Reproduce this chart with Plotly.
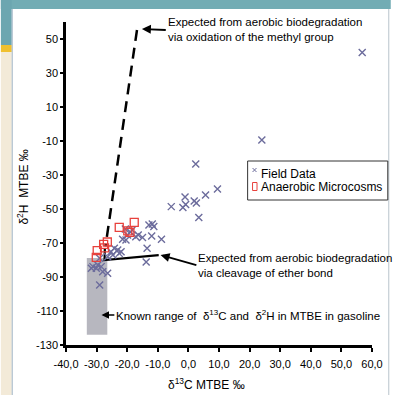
import plotly.graph_objects as go

# ---------------- data ----------------
field_c = [56.8, 24.0, 9.5, 2.4, 5.6, 1.9, 2.6, -1.1, -0.9, -1.8, -5.6, 3.4,
           -11.8, -12.9, -11.3, -12.0, -8.8, -13.5, -13.8, -15.0, -17.2, -20.6,
           -19.9, -21.5, -20.4, -16.4, -24.2, -23.1, -22.0, -25.3, -26.4, -24.7,
           -29.0, -31.2, -30.1, -28.5, -31.7, -29.6, -28.0, -26.4, -29.0, -22.6,
           -19.0, -18.4]
field_h = [42.0, -9.4, -38.2, -23.5, -41.8, -45.3, -46.5, -42.9, -47.4, -49.1, -48.6, -55.0,
           -58.8, -59.4, -60.3, -65.9, -67.8, -73.1, -81.2, -66.8, -66.3, -61.8,
           -65.3, -67.8, -68.2, -65.3, -73.1, -74.1, -75.1, -75.1, -78.1, -77.1,
           -79.0, -83.9, -84.9, -83.9, -84.9, -82.9, -86.9, -87.8, -94.7, -76.1,
           -63.5, -62.4]

micro_c = [-22.6, -17.7, -19.1, -27.7, -26.5, -29.8, -30.1, -27.4, -19.8]
micro_h = [-60.8, -57.9, -63.7, -70.8, -69.4, -74.5, -78.4, -72.9, -62.9]

# expected trend lines
methyl_c = [-16.8, -27.1]
methyl_h = [55.3, -72.0]
ether_c = [-27.3, -27.4, -9.7]
ether_h = [-73.0, -80.0, -77.1]

# known range in gasoline
gasoline_c = [-33.2, -26.5]
gasoline_h = [-124.0, -78.8]

series_names = ["Field Data", "Anaerobic Microcosms"]

x_tickvals = [-40, -30, -20, -10, 0, 10, 20, 30, 40, 50, 60]
x_ticktext = ["-40,0", "-30,0", "-20,0", "-10,0", "0,0", "10,0", "20,0",
              "30,0", "40,0", "50,0", "60,0"]
y_tickvals = [50, 30, 10, -10, -30, -50, -70, -90, -110, -130]
y_ticktext = ["50", "30", "10", "-10", "-30", "-50", "-70", "-90", "-110", "-130"]

FONT = "Liberation Sans, Arial, sans-serif"
FIELD_COLOR = "#6C6C9C"
MICRO_COLOR = "#E8413C"

fig = go.Figure()

fig.add_trace(go.Scatter(
    x=methyl_c, y=methyl_h, mode="lines", showlegend=False, hoverinfo="skip",
    line=dict(color="black", width=2.5, dash="11px,7px")))
fig.add_trace(go.Scatter(
    x=ether_c, y=ether_h, mode="lines", showlegend=False, hoverinfo="skip",
    line=dict(color="black", width=2.2)))

fig.add_trace(go.Scatter(
    x=field_c, y=field_h, mode="markers", name=series_names[0], showlegend=False,
    marker=dict(symbol="x-thin", size=7, color=FIELD_COLOR,
                line=dict(width=1.4, color=FIELD_COLOR))))
fig.add_trace(go.Scatter(
    x=micro_c, y=micro_h, mode="markers", name=series_names[1], showlegend=False,
    marker=dict(symbol="square-open", size=8, color=MICRO_COLOR,
                line=dict(width=1.3, color=MICRO_COLOR))))

W, H = 395, 395
L, R, T, B = 66, 19, 22, 50
pw, ph = W - L - R, H - T - B


def px(xp):
    return (xp - L) / pw


def py(yp):
    return (H - B - yp) / ph


shapes = [
    # frame background
    dict(type="rect", xref="paper", yref="paper", x0=px(0), x1=px(W), y0=py(0), y1=py(9),
         fillcolor="#72ACB4", line_width=0, layer="below"),
    dict(type="rect", xref="paper", yref="paper", x0=px(0), x1=px(11), y0=py(0), y1=py(45),
         fillcolor="#6CA6B0", line_width=0, layer="below"),
    dict(type="rect", xref="paper", yref="paper", x0=px(0), x1=px(11), y0=py(45), y1=py(52),
         fillcolor="#F0C030", line_width=0, layer="below"),
    dict(type="rect", xref="paper", yref="paper", x0=px(0), x1=px(11), y0=py(52), y1=py(H),
         fillcolor="#F3EAD8", line_width=0, layer="below"),
    dict(type="line", xref="paper", yref="paper", x0=px(11.5), x1=px(11.5), y0=py(9), y1=py(H),
         line=dict(color="#9FB3C4", width=1), layer="below"),
    dict(type="line", xref="paper", yref="paper", x0=px(393), x1=px(393), y0=py(9), y1=py(H),
         line=dict(color="#B8C4CC", width=1), layer="below"),
    # gasoline range
    dict(type="rect", xref="x", yref="y", x0=gasoline_c[0], x1=gasoline_c[1],
         y0=gasoline_h[0], y1=gasoline_h[1], fillcolor="#B7B7BF", line_width=0, layer="below"),
    # legend box
    dict(type="rect", xref="paper", yref="paper", x0=px(250), x1=px(392), y0=py(200), y1=py(161),
         fillcolor="white", line=dict(color="#333333", width=1), layer="above"),
    # legend glyph: field data (small x)
    dict(type="line", xref="paper", yref="paper", x0=px(255), x1=px(259), y0=py(168), y1=py(172),
         line=dict(color=FIELD_COLOR, width=1), layer="above"),
    dict(type="line", xref="paper", yref="paper", x0=px(255), x1=px(259), y0=py(172), y1=py(168),
         line=dict(color=FIELD_COLOR, width=1), layer="above"),
    # legend glyph: microcosms (red rectangle)
    dict(type="rect", xref="paper", yref="paper", x0=px(255), x1=px(259.5), y0=py(190.5), y1=py(182.5),
         fillcolor="white", line=dict(color=MICRO_COLOR, width=1), layer="above"),
]

annot_font = dict(family=FONT, size=11.5, color="black")
arrow_style = dict(showarrow=True, arrowhead=2, arrowsize=1, arrowcolor="black",
                   standoff=0, startstandoff=0, axref="x", ayref="y",
                   xanchor="left", yanchor="middle", align="left", font=annot_font)
annotations = [
    dict(x=-15.2, y=55.9, ax=-7.4, ay=55.3, xref="x", yref="y", arrowwidth=1.8,
         text="Expected from aerobic biodegradation<br>via oxidation of the methyl group",
         **arrow_style),
    dict(x=-9.1, y=-77.1, ax=2.6, ay=-83.0, xref="x", yref="y", arrowwidth=1.8,
         text="Expected from aerobic biodegradation<br>via cleavage of ether bond",
         **arrow_style),
    dict(x=-28.4, y=-112.4, ax=-24.2, ay=-112.4, xref="x", yref="y", arrowwidth=1.5,
         text="Known range of  δ<sup>13</sup>C and  δ<sup>2</sup>H in MTBE in gasoline",
         **arrow_style),
    # legend texts
    dict(x=px(262), y=py(174), xref="paper", yref="paper", xanchor="left", yanchor="middle",
         text=series_names[0], showarrow=False, font=dict(family=FONT, size=12, color="black")),
    dict(x=px(262), y=py(187), xref="paper", yref="paper", xanchor="left", yanchor="middle",
         text=series_names[1], showarrow=False, font=dict(family=FONT, size=12, color="black")),
    # axis titles
    dict(x=px(208), y=py(384), xref="paper", yref="paper", xanchor="center", yanchor="middle",
         text="δ<sup>13</sup>C MTBE ‰", showarrow=False, font=dict(family=FONT, size=12, color="black")),
    dict(x=px(22), y=py(187), xref="paper", yref="paper", xanchor="center", yanchor="middle",
         text="δ<sup>2</sup>H  MTBE ‰", textangle=-90, showarrow=False,
         font=dict(family=FONT, size=12, color="black")),
]

fig.update_layout(
    width=W, height=H,
    margin=dict(l=L, r=R, t=T, b=B, pad=0),
    paper_bgcolor="white", plot_bgcolor="white",
    font=dict(family=FONT, size=11, color="black"),
    shapes=shapes, annotations=annotations,
    showlegend=False,
    xaxis=dict(range=[-40, 60], tickvals=x_tickvals, ticktext=x_ticktext,
               showline=True, linecolor="black", linewidth=2.5, ticks="outside",
               ticklen=4, tickwidth=1.5, tickcolor="black", showgrid=False, zeroline=False,
               tickfont=dict(family=FONT, size=11, color="black"), ticklabelstandoff=3),
    yaxis=dict(range=[-130, 60], tickvals=y_tickvals, ticktext=y_ticktext,
               showline=True, linecolor="black", linewidth=2.5, ticks="outside",
               ticklen=3, tickwidth=1.5, tickcolor="black", showgrid=False, zeroline=False,
               tickfont=dict(family=FONT, size=11, color="black")),
)

fig.write_html("out.html", config={"displayModeBar": False},
               post_script="document.body.style.margin='0px';")
